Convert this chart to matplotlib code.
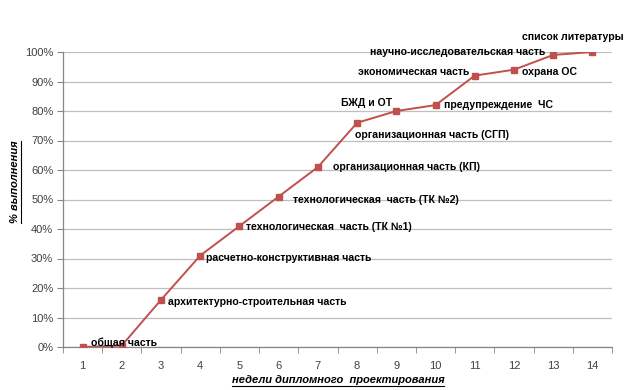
import matplotlib
matplotlib.use("Agg")
import matplotlib.pyplot as plt
from matplotlib.lines import Line2D
from matplotlib.ticker import PercentFormatter, FixedLocator, NullLocator

weeks = list(range(1, 15))
values = [0, 0.5, 16, 31, 41, 51, 61, 76, 80, 82, 92, 94, 99, 100]
labels = ["общая часть", "", "архитектурно-строительная часть",
          "расчетно-конструктивная часть", "технологическая  часть (ТК №1)",
          "технологическая  часть (ТК №2)", "организационная часть (КП)",
          "организационная часть (СГП)", "БЖД и ОТ", "предупреждение  ЧС",
          "экономическая часть", "охрана ОС", "научно-исследовательская часть",
          "список литературы"]
y_ticks = [0, 10, 20, 30, 40, 50, 60, 70, 80, 90, 100]
x_title = "недели дипломного  проектирования"
y_title = "% выполнения"

# label placement (pixel offsets, alignment)
offsets = [(8, 4, "left"), (0, 0, "left"), (7, -2, "left"), (6, -2, "left"),
           (7, -1, "left"), (14, -3, "left"), (15, 0, "left"), (-2, -12, "left"),
           (-4, 8, "right"), (8, 0, "left"), (-5, 4, "right"), (8, -2, "left"),
           (-8, 3, "right"), (-70, 15, "left")]

plt.rcParams['font.family'] = ['Liberation Sans', 'DejaVu Sans']
fig = plt.figure(figsize=(6.24, 3.9), dpi=100)
ax = fig.add_axes([63/624, 1-347/390, (612-63)/624, (347-52)/390])

red = "#C0504D"
ax.plot(weeks, values, color=red, lw=1.4, marker="s", markersize=4.5,
        markerfacecolor=red, markeredgecolor=red, zorder=3)

for w, v, lab, (dx, dy, ha) in zip(weeks, values, labels, offsets):
    if lab:
        ax.annotate(lab, (w, v), xytext=(dx, dy), textcoords="offset pixels",
                    ha=ha, va="center", fontsize=7.6, fontweight="bold",
                    color="black", zorder=4, annotation_clip=False)

ax.set_xlim(0.5, 14.5)
ax.set_ylim(0, 100)
ax.set_yticks(y_ticks)
ax.yaxis.set_major_formatter(PercentFormatter(decimals=0))
ax.set_xticks(weeks)
ax.set_xticklabels([str(w) for w in weeks])
ax.xaxis.set_minor_locator(FixedLocator([w + 0.5 for w in range(0, 15)]))
ax.tick_params(axis="x", which="major", length=0, pad=10, labelsize=8, labelcolor="#404040")
ax.tick_params(axis="x", which="minor", length=4, color="#868686", direction="out")
ax.tick_params(axis="y", length=4, color="#868686", labelsize=8, labelcolor="#404040", pad=3)
ax.grid(axis="y", color="#BFBFBF", lw=0.9)
ax.set_axisbelow(True)
for s in ["top", "right"]:
    ax.spines[s].set_visible(False)
for s in ["left", "bottom"]:
    ax.spines[s].set_color("#868686")
    ax.spines[s].set_linewidth(0.9)

tx = fig.text(338/624, 1-380/390, x_title, ha="center", va="center",
              fontsize=8, fontweight="bold", fontstyle="italic", color="black")
ty = fig.text(15/624, 1-182/390, y_title, ha="center", va="center", rotation=90,
              fontsize=8, fontweight="bold", fontstyle="italic", color="black")

fig.canvas.draw()
r = fig.canvas.get_renderer()
H = fig.bbox.height
W = fig.bbox.width
bb = tx.get_window_extent(r)
fig.add_artist(Line2D([bb.x0/W, bb.x1/W], [(bb.y0-0.5)/H]*2, transform=fig.transFigure,
                      color="black", lw=0.8))
bb = ty.get_window_extent(r)
fig.add_artist(Line2D([(bb.x1+0.5)/W]*2, [bb.y0/H, bb.y1/H], transform=fig.transFigure,
                      color="black", lw=0.8))

fig.savefig("out.png", dpi=100)
